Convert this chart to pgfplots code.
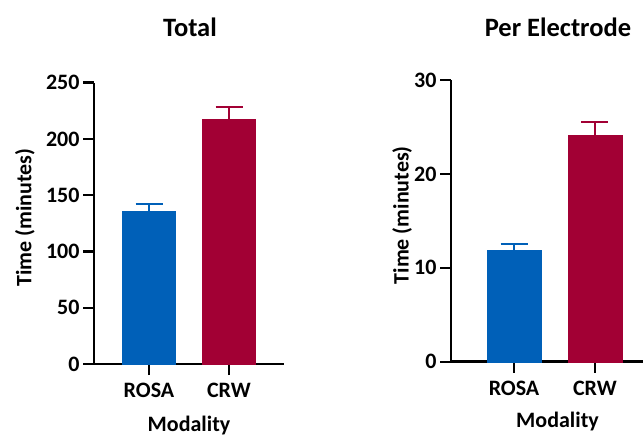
\documentclass[border=0pt]{standalone}
\usepackage{fontspec}
\setmainfont{Carlito}
\usepackage{pgfplots}
\pgfplotsset{compat=1.18}
\definecolor{rosablue}{RGB}{0,96,184}
\definecolor{crwred}{RGB}{162,0,52}
\pgfplotsset{
  mybar/.style={
    scale only axis,
    axis x line*=bottom, axis y line*=left,
    axis line style={line width=2.6pt, black},
    tick style={line width=2.4pt, black},
    tick align=outside,
    major tick length=11pt,
    xtick={0,1}, xticklabels={ROSA,CRW},
    xticklabel style={yshift=-5pt},
    ymin=0,
    font=\fontsize{22}{25}\selectfont\bfseries,
    /pgf/number format/assume math mode=true,
    xlabel={Modality}, ylabel={Time (minutes)},
    xlabel style={at={(axis description cs:0.5,0)}, anchor=center, yshift=-62pt},
    clip=false,
  },
  mybars/.style 2 args={ybar, bar shift=0pt, bar width=#1, fill=#2, draw=#2,
    /pgfplots/error bars/y dir=plus, /pgfplots/error bars/y explicit,
    /pgfplots/error bars/error bar style={line width=2pt, color=#2},
    /pgfplots/error bars/error mark options={rotate=90, mark size=13.5pt, line width=2pt, color=#2}},
}
\begin{document}
\begin{tikzpicture}
\useasboundingbox (0pt,0pt) rectangle (644pt,-438pt);
% Left panel
\begin{axis}[mybar,
  at={(94pt,-364pt)}, anchor=south west,
  width=190pt, height=281.3pt,
  xmin=-0.6875, xmax=1.6875,
  ymax=250, ytick={0,50,100,150,200,250},
  ylabel style={at={(axis description cs:-0.3632,0.52)}, anchor=center},
]
\addplot[mybars={53pt}{rosablue}] coordinates {(0,136) +- (0,6.5)};
\addplot[mybars={53pt}{crwred}] coordinates {(1,218) +- (0,10.3)};
\end{axis}
\node[font=\fontsize{26.5}{29}\selectfont\bfseries] at (190pt,-27pt) {Total};
% Right panel
\begin{axis}[mybar,
  at={(451pt,-361.7pt)}, anchor=south west,
  width=192pt, height=281.7pt,
  xmin=-0.778, xmax=1.593,
  ymax=30, ytick={0,10,20,30},
  ylabel style={at={(axis description cs:-0.2552,0.52)}, anchor=center},
  xlabel style={xshift=10.5pt, yshift=2pt},
]
\addplot[mybars={53.5pt}{rosablue}] coordinates {(0,11.9) +- (0,0.63)};
\addplot[mybars={53.5pt}{crwred}] coordinates {(1,24.15) +- (0,1.35)};
\end{axis}
\node[font=\fontsize{26.5}{29}\selectfont\bfseries] at (558pt,-27pt) {Per Electrode};
\end{tikzpicture}
\end{document}
